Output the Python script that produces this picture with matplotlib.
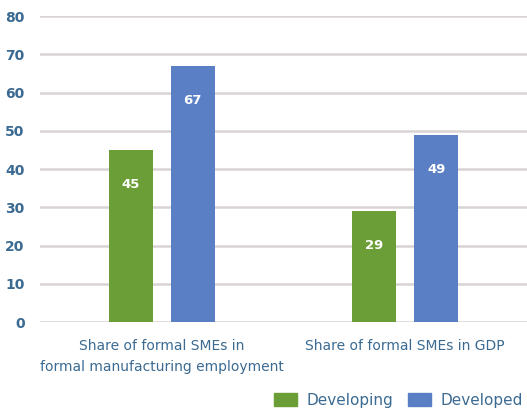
import numpy as np
import matplotlib.pyplot as plt
from matplotlib.patches import Patch

# data
categories = ["Share of formal SMEs in\nformal manufacturing employment",
              "Share of formal SMEs in GDP"]
developing = [45, 29]
developed = [67, 49]
series_names = ["Developing", "Developed"]

GREEN = "#6b9e36"
BLUE = "#5b7fc4"
TEXT = "#3b6a92"
GRID = "#d9d4d4"

plt.rcParams['font.family'] = ['DejaVu Sans']

fig = plt.figure(figsize=(5.27, 4.13), dpi=100)
ax = fig.add_axes([40 / 527, 91 / 413, 487 / 527, 306 / 413])

x = np.arange(len(categories))
w = 0.18
off = 0.127
b1 = ax.bar(x - off, developing, w, color=GREEN, zorder=3)
b2 = ax.bar(x + off, developed, w, color=BLUE, zorder=3)

for bars, vals in ((b1, developing), (b2, developed)):
    for r, v in zip(bars, vals):
        ax.annotate(str(v), (r.get_x() + r.get_width() / 2, v),
                    xytext=(0, -25), textcoords="offset points",
                    ha="center", va="center", color="white",
                    fontsize=9.5, fontweight="bold")

ax.set_xlim(-0.5, 1.5)
ax.set_ylim(0, 80)
ax.set_yticks(range(0, 81, 10))
ax.yaxis.grid(True, color=GRID, linewidth=1.8, zorder=0)
ax.set_axisbelow(True)
for s in ax.spines.values():
    s.set_visible(False)

ax.set_xticks(x)
ax.set_xticklabels(categories, fontsize=10, color=TEXT, linespacing=1.65)
ax.tick_params(axis="x", length=0, pad=12)
ax.tick_params(axis="y", length=0, pad=11, labelsize=10, labelcolor=TEXT)
for t in ax.get_yticklabels():
    t.set_fontweight("bold")

handles = [Patch(color=GREEN), Patch(color=BLUE)]
fig.legend(handles, series_names, loc="lower right", bbox_to_anchor=(1.018, -0.02),
           ncol=2, frameon=False, fontsize=11, handlelength=1.5, handleheight=0.9,
           columnspacing=1.0, handletextpad=0.6, labelcolor=TEXT)

fig.savefig("out.png", dpi=100)
